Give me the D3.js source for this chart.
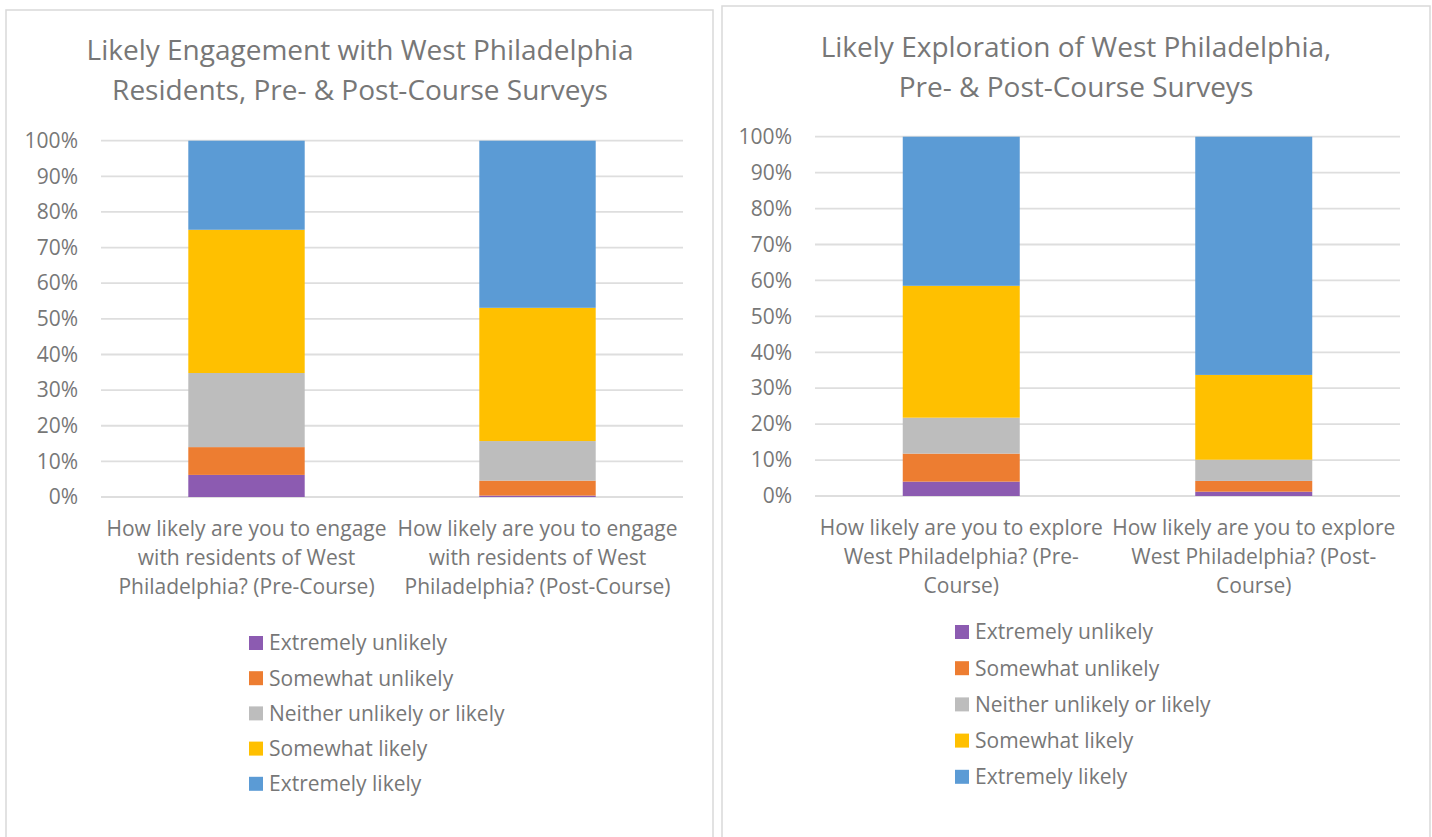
<!DOCTYPE html>
<html>
<head>
<meta charset="utf-8">
<script src="https://cdn.jsdelivr.net/npm/d3@7"></script>
<style>
  body { margin: 0; background: #fff; }
  svg { display: block; font-family: "Open Sans", Lato, sans-serif; }
</style>
</head>
<body>
<div id="chart"></div>
<script>
// response scale, bottom to top
var seriesNames = ["Extremely unlikely", "Somewhat unlikely", "Neither unlikely or likely", "Somewhat likely", "Extremely likely"];
var seriesColors = ["#8c5bb1", "#ed7d31", "#bdbdbd", "#ffc000", "#5b9bd5"];
var yTicks = [0, 10, 20, 30, 40, 50, 60, 70, 80, 90, 100];

// chart 1: engagement with residents
var engageTitle = ["Likely Engagement with West Philadelphia", "Residents, Pre- & Post-Course Surveys"];
var engageCats = ["Pre-Course", "Post-Course"];
var engageLabels = [
  ["How likely are you to engage", "with residents of West", "Philadelphia? (Pre-Course)"],
  ["How likely are you to engage", "with residents of West", "Philadelphia? (Post-Course)"]
];
var engagePre = [6.2, 7.8, 20.8, 40.2, 25.0];
var engagePost = [0.4, 4.2, 11.1, 37.4, 46.9];

// chart 2: exploring west philly
var exploreTitle = ["Likely Exploration of West Philadelphia,", "Pre- & Post-Course Surveys"];
var exploreCats = ["Pre-Course", "Post-Course"];
var exploreLabels = [
  ["How likely are you to explore", "West Philadelphia? (Pre-", "Course)"],
  ["How likely are you to explore", "West Philadelphia? (Post-", "Course)"]
];
var explorePre = [4.0, 7.8, 10.0, 36.7, 41.5];
var explorePost = [1.2, 3.0, 5.9, 23.6, 66.3];

var W = 1432, H = 837;
var textCol = "#777777";

var svg = d3.select("#chart").append("svg")
    .attr("width", W)
    .attr("height", H);

function drawChart(cfg) {
  var g = svg.append("g");

  // outer frame
  g.append("rect")
    .attr("x", cfg.box[0]).attr("y", cfg.box[1])
    .attr("width", cfg.box[2]).attr("height", cfg.box[3])
    .attr("fill", "#fff")
    .attr("stroke", "#d9d9d9")
    .attr("stroke-width", 1.5);

  // title
  g.append("text")
    .attr("text-anchor", "middle")
    .attr("fill", textCol)
    .style("font-size", "28px")
    .selectAll("tspan")
    .data(cfg.title)
    .enter().append("tspan")
    .attr("x", cfg.titleX)
    .attr("y", function(d, i){ return cfg.titleY + i * 40; })
    .text(function(d){ return d; });

  var x = d3.scaleBand()
    .domain(cfg.cats)
    .range([cfg.plot.left, cfg.plot.right])
    .paddingInner(0.6)
    .paddingOuter(0.3);

  var y = d3.scaleLinear()
    .domain([0, 100])
    .range([cfg.plot.bottom, cfg.plot.top]);

  // gridlines
  g.append("g")
    .selectAll("line")
    .data(yTicks)
    .enter().append("line")
    .attr("x1", cfg.plot.left).attr("x2", cfg.plot.right)
    .attr("y1", function(d){ return y(d); })
    .attr("y2", function(d){ return y(d); })
    .attr("stroke", "#dedede")
    .attr("stroke-width", 1.8);

  // y axis labels
  var yAxis = d3.axisLeft(y)
    .tickValues(yTicks)
    .tickSize(0)
    .tickPadding(23)
    .tickFormat(function(d){ return d + "%"; });
  var ya = g.append("g")
    .attr("transform", "translate(" + cfg.plot.left + ",0)")
    .call(yAxis);
  ya.select(".domain").remove();
  ya.selectAll("text")
    .attr("fill", textCol)
    .style("font-family", "'Open Sans', sans-serif")
    .style("font-size", "21px");

  // stack
  var rows = cfg.cats.map(function(c, i){
    var r = {cat: c};
    seriesNames.forEach(function(s, j){ r[s] = cfg.values[i][j]; });
    return r;
  });
  var stacked = d3.stack().keys(seriesNames)(rows);

  g.append("g")
    .selectAll("g")
    .data(stacked)
    .enter().append("g")
    .attr("fill", function(d, i){ return seriesColors[i]; })
    .selectAll("rect")
    .data(function(d){ return d; })
    .enter().append("rect")
    .attr("x", function(d){ return x(d.data.cat); })
    .attr("width", x.bandwidth())
    .attr("y", function(d){ return y(d[1]); })
    .attr("height", function(d){ return y(d[0]) - y(d[1]); });

  // category labels
  cfg.cats.forEach(function(c, i){
    g.append("text")
      .attr("text-anchor", "middle")
      .attr("fill", textCol)
      .style("font-size", "21px")
      .selectAll("tspan")
      .data(cfg.labels[i])
      .enter().append("tspan")
      .attr("x", x(c) + x.bandwidth() / 2)
      .attr("y", function(d, k){ return cfg.catY + k * 29; })
      .text(function(d){ return d; });
  });

  // legend
  var leg = g.append("g")
    .selectAll("g")
    .data(seriesNames)
    .enter().append("g")
    .attr("transform", function(d, i){
      return "translate(" + cfg.legX + "," + (cfg.legY + i * cfg.legStep) + ")";
    });
  leg.append("rect")
    .attr("x", 0).attr("y", -7)
    .attr("width", 14).attr("height", 14)
    .attr("fill", function(d, i){ return seriesColors[i]; });
  leg.append("text")
    .attr("x", 20)
    .attr("dy", "0.35em")
    .attr("fill", textCol)
    .style("font-size", "21px")
    .text(function(d){ return d; });
}

drawChart({
  box: [6, 10, 707, 840],
  title: engageTitle, titleX: 360, titleY: 60,
  cats: engageCats, labels: engageLabels,
  values: [engagePre, engagePost],
  plot: {left: 101, right: 683, top: 140.7, bottom: 497},
  catY: 536,
  legX: 249, legY: 643, legStep: 35.2
});

drawChart({
  box: [722, 6, 708, 840],
  title: exploreTitle, titleX: 1076, titleY: 57,
  cats: exploreCats, labels: exploreLabels,
  values: [explorePre, explorePost],
  plot: {left: 815, right: 1400, top: 136.7, bottom: 496},
  catY: 535,
  legX: 955, legY: 632, legStep: 36.2
});
</script>
</body>
</html>
